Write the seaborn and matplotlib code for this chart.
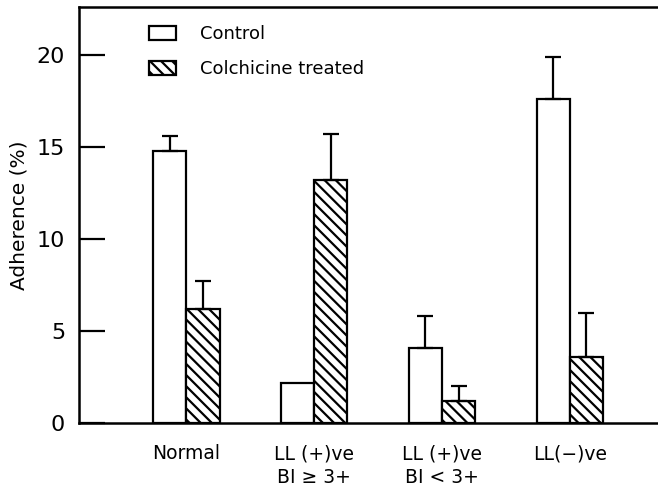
import matplotlib
matplotlib.use('Agg')
import matplotlib.pyplot as plt
import matplotlib.patches as mpatches
import seaborn as sns
import pandas as pd

categories = ["Normal", "LL (+)ve\nBI ≥ 3+", "LL (+)ve\nBI < 3+", "LL(−)ve"]
groups = ["Control", "Colchicine treated"]
control = [14.8, 2.2, 4.1, 17.6]
colchicine = [6.2, 13.2, 1.2, 3.6]
control_err = [0.8, 0.0, 1.7, 2.3]
colchicine_err = [1.5, 2.5, 0.8, 2.4]
yticks = [0, 5, 10, 15, 20]

sns.set_theme(style='white')
plt.rcParams['font.family'] = ['DejaVu Sans']
plt.rcParams['hatch.linewidth'] = 1.6
plt.rcParams['hatch.color'] = 'black'
plt.rcParams['text.color'] = 'black'
plt.rcParams['axes.labelcolor'] = 'black'
plt.rcParams['xtick.color'] = 'black'
plt.rcParams['ytick.color'] = 'black'

df = pd.DataFrame({
    'Category': categories * 2,
    'Group': [groups[0]] * 4 + [groups[1]] * 4,
    'Adherence': control + colchicine,
})

fig = plt.figure(figsize=(6.58, 4.87), dpi=100)
ax = fig.add_axes([0.12, 0.131, 0.88, 0.855])
sns.barplot(data=df, x='Category', y='Adherence', hue='Group', order=categories,
            hue_order=groups, width=0.52, palette=['white', 'white'], saturation=1,
            edgecolor='black', linewidth=1.6, errorbar=None, legend=False, ax=ax)

for bar in ax.containers[1]:
    bar.set_hatch('\\\\\\')

for cont, errs in zip(ax.containers, [control_err, colchicine_err]):
    for bar, e in zip(cont, errs):
        if e > 0:
            ax.errorbar(bar.get_x() + bar.get_width() / 2, bar.get_height(),
                        yerr=[[0], [e]], fmt='none', ecolor='black',
                        elinewidth=1.6, capsize=6, capthick=1.6)

ax.set_ylim(0, 22.6)
ax.set_xlim(-0.84, 3.69)
ax.set_yticks(yticks)
ax.set_yticklabels([str(t) for t in yticks], fontsize=16)
ax.tick_params(axis='y', direction='in', length=19, width=1.6, pad=10, left=True)
ax.tick_params(axis='x', length=0, pad=15)
for lbl in ax.get_xticklabels():
    lbl.set_fontsize(13.5)
    lbl.set_linespacing(1.35)
for s in ['left', 'top', 'bottom']:
    ax.spines[s].set_linewidth(1.8)
    ax.spines[s].set_color('black')
ax.spines['right'].set_visible(False)
ax.set_xlabel('')
ax.set_ylabel('Adherence (%)', fontsize=14.5, labelpad=6)

handles = [mpatches.Patch(facecolor='white', edgecolor='black', linewidth=1.6),
           mpatches.Patch(facecolor='white', edgecolor='black', linewidth=1.6, hatch='\\\\\\')]
fig.legend(handles, groups, loc='upper left', bbox_to_anchor=(149 / 658, 1 - 25 / 487),
           frameon=False, fontsize=13, handlelength=1.5, handleheight=0.8,
           handletextpad=1.3, labelspacing=0.95, borderpad=0, borderaxespad=0)

fig.savefig('out.png', dpi=100)
